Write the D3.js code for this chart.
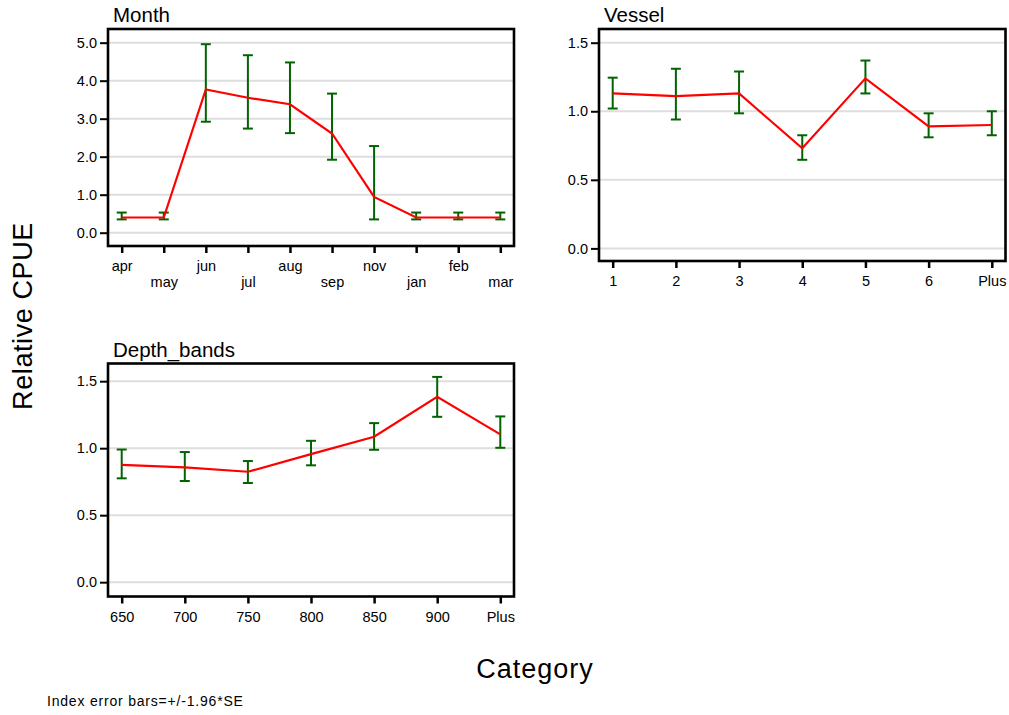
<!DOCTYPE html>
<html>
<head>
<meta charset="utf-8">
<script src="https://cdn.jsdelivr.net/npm/d3@7"></script>
<style>
  html, body { margin: 0; padding: 0; background: #fff; }
  svg { display: block; font-family: "Liberation Sans", Arial, sans-serif; }
</style>
</head>
<body>
<svg id="chart" width="1009" height="715"></svg>
<script>
// Month effect
const monthCats  = ["apr", "may", "jun", "jul", "aug", "sep", "nov", "jan", "feb", "mar"];
const monthIndex = [0.40, 0.40, 3.77, 3.55, 3.38, 2.61, 0.94, 0.40, 0.40, 0.40];
const monthLower = [0.35, 0.35, 2.92, 2.74, 2.62, 1.92, 0.35, 0.35, 0.35, 0.35];
const monthUpper = [0.53, 0.53, 4.96, 4.67, 4.48, 3.66, 2.28, 0.53, 0.53, 0.53];
const monthTicks = [0, 1, 2, 3, 4, 5];

// Vessel effect
const vesselCats  = ["1", "2", "3", "4", "5", "6", "Plus"];
const vesselIndex = [1.13, 1.11, 1.13, 0.73, 1.24, 0.89, 0.90];
const vesselLower = [1.02, 0.94, 0.985, 0.646, 1.13, 0.81, 0.825];
const vesselUpper = [1.245, 1.31, 1.29, 0.825, 1.37, 0.985, 1.0];
const vesselTicks = [0, 0.5, 1, 1.5];

// Depth band effect
const depthCats  = ["650", "700", "750", "800", "850", "900", "Plus"];
const depthIndex = [0.875, 0.857, 0.824, 0.956, 1.085, 1.383, 1.103];
const depthLower = [0.775, 0.755, 0.74, 0.872, 0.988, 1.234, 1.003];
const depthUpper = [0.99, 0.971, 0.904, 1.055, 1.187, 1.532, 1.237];
const depthTicks = [0, 0.5, 1, 1.5];

const svg = d3.select("#chart");

const panels = [
  { title: "Month", cats: monthCats, idx: monthIndex, lo: monthLower, hi: monthUpper, ticks: monthTicks,
    box: { left: 108, right: 514, top: 29, bottom: 246 }, domain: [-0.35, 5.36], stagger: true },
  { title: "Vessel", cats: vesselCats, idx: vesselIndex, lo: vesselLower, hi: vesselUpper, ticks: vesselTicks,
    box: { left: 599, right: 1005.5, top: 29, bottom: 261 }, domain: [-0.092, 1.6], stagger: false },
  { title: "Depth_bands", cats: depthCats, idx: depthIndex, lo: depthLower, hi: depthUpper, ticks: depthTicks,
    box: { left: 108, right: 514, top: 363.5, bottom: 596.5 }, domain: [-0.107, 1.632], stagger: false }
];

const inset = 13.7;
const fmt = d3.format(".1f");

panels.forEach(p => {
  const b = p.box;
  const x = d3.scalePoint().domain(p.cats).range([b.left + inset, b.right - inset]).padding(0);
  const y = d3.scaleLinear().domain(p.domain).range([b.bottom, b.top]);
  const g = svg.append("g");

  // horizontal gridlines
  g.append("g").selectAll("line").data(p.ticks).join("line")
    .attr("x1", b.left).attr("x2", b.right)
    .attr("y1", d => y(d)).attr("y2", d => y(d))
    .attr("stroke", "#dedede").attr("stroke-width", 2);

  // error bars
  const rows = p.cats.map((c, i) => ({ c, v: p.idx[i], lo: p.lo[i], hi: p.hi[i] }));
  const eb = g.append("g").attr("stroke", "#006400").attr("stroke-width", 2).attr("fill", "none");
  eb.selectAll("line.v").data(rows).join("line").attr("class", "v")
    .attr("x1", d => x(d.c)).attr("x2", d => x(d.c))
    .attr("y1", d => y(d.lo)).attr("y2", d => y(d.hi));
  eb.selectAll("line.t").data(rows).join("line").attr("class", "t")
    .attr("x1", d => x(d.c) - 5).attr("x2", d => x(d.c) + 5)
    .attr("y1", d => y(d.hi)).attr("y2", d => y(d.hi));
  eb.selectAll("line.b").data(rows).join("line").attr("class", "b")
    .attr("x1", d => x(d.c) - 5).attr("x2", d => x(d.c) + 5)
    .attr("y1", d => y(d.lo)).attr("y2", d => y(d.lo));

  // index line
  g.append("path").datum(rows)
    .attr("fill", "none").attr("stroke", "#ff0000").attr("stroke-width", 2.2)
    .attr("d", d3.line().x(d => x(d.c)).y(d => y(d.v)));

  // y axis
  const ya = g.append("g").attr("transform", `translate(${b.left},0)`)
    .call(d3.axisLeft(y).tickValues(p.ticks).tickFormat(fmt).tickSize(8).tickPadding(3));
  ya.select(".domain").remove();
  ya.selectAll("line").attr("stroke", "#000").attr("stroke-width", 2);
  ya.selectAll("text").attr("font-size", "14.5px").attr("fill", "#000")
    .attr("font-family", "'Liberation Sans', Arial, sans-serif");

  // x axis
  const xa = g.append("g").attr("transform", `translate(0,${b.bottom})`)
    .call(d3.axisBottom(x).tickSize(7).tickSizeOuter(0));
  xa.select(".domain").remove();
  xa.selectAll("line").attr("stroke", "#000").attr("stroke-width", 2.5);
  xa.selectAll("text").attr("font-size", "14.5px").attr("fill", "#000")
    .attr("font-family", "'Liberation Sans', Arial, sans-serif")
    .attr("dy", null)
    .attr("y", (d, i) => (p.stagger && i % 2 === 1) ? 41 : 25);

  // frame
  g.append("rect")
    .attr("x", b.left).attr("y", b.top)
    .attr("width", b.right - b.left).attr("height", b.bottom - b.top)
    .attr("fill", "none").attr("stroke", "#000").attr("stroke-width", 2.6);

  // panel title
  g.append("text").attr("x", b.left + 5).attr("y", b.top - 7)
    .attr("font-size", "20.5px").attr("fill", "#000").text(p.title);
});

// shared axis titles and note
svg.append("text")
  .attr("transform", "translate(32,316) rotate(-90)")
  .attr("text-anchor", "middle").attr("font-size", "27px").attr("letter-spacing", "0.6px")
  .text("Relative CPUE");

svg.append("text")
  .attr("x", 535).attr("y", 678)
  .attr("text-anchor", "middle").attr("font-size", "27px").attr("letter-spacing", "1px")
  .text("Category");

svg.append("text")
  .attr("x", 47).attr("y", 706)
  .attr("font-size", "14px").attr("letter-spacing", "0.8px")
  .text("Index error bars=+/-1.96*SE");
</script>
</body>
</html>
